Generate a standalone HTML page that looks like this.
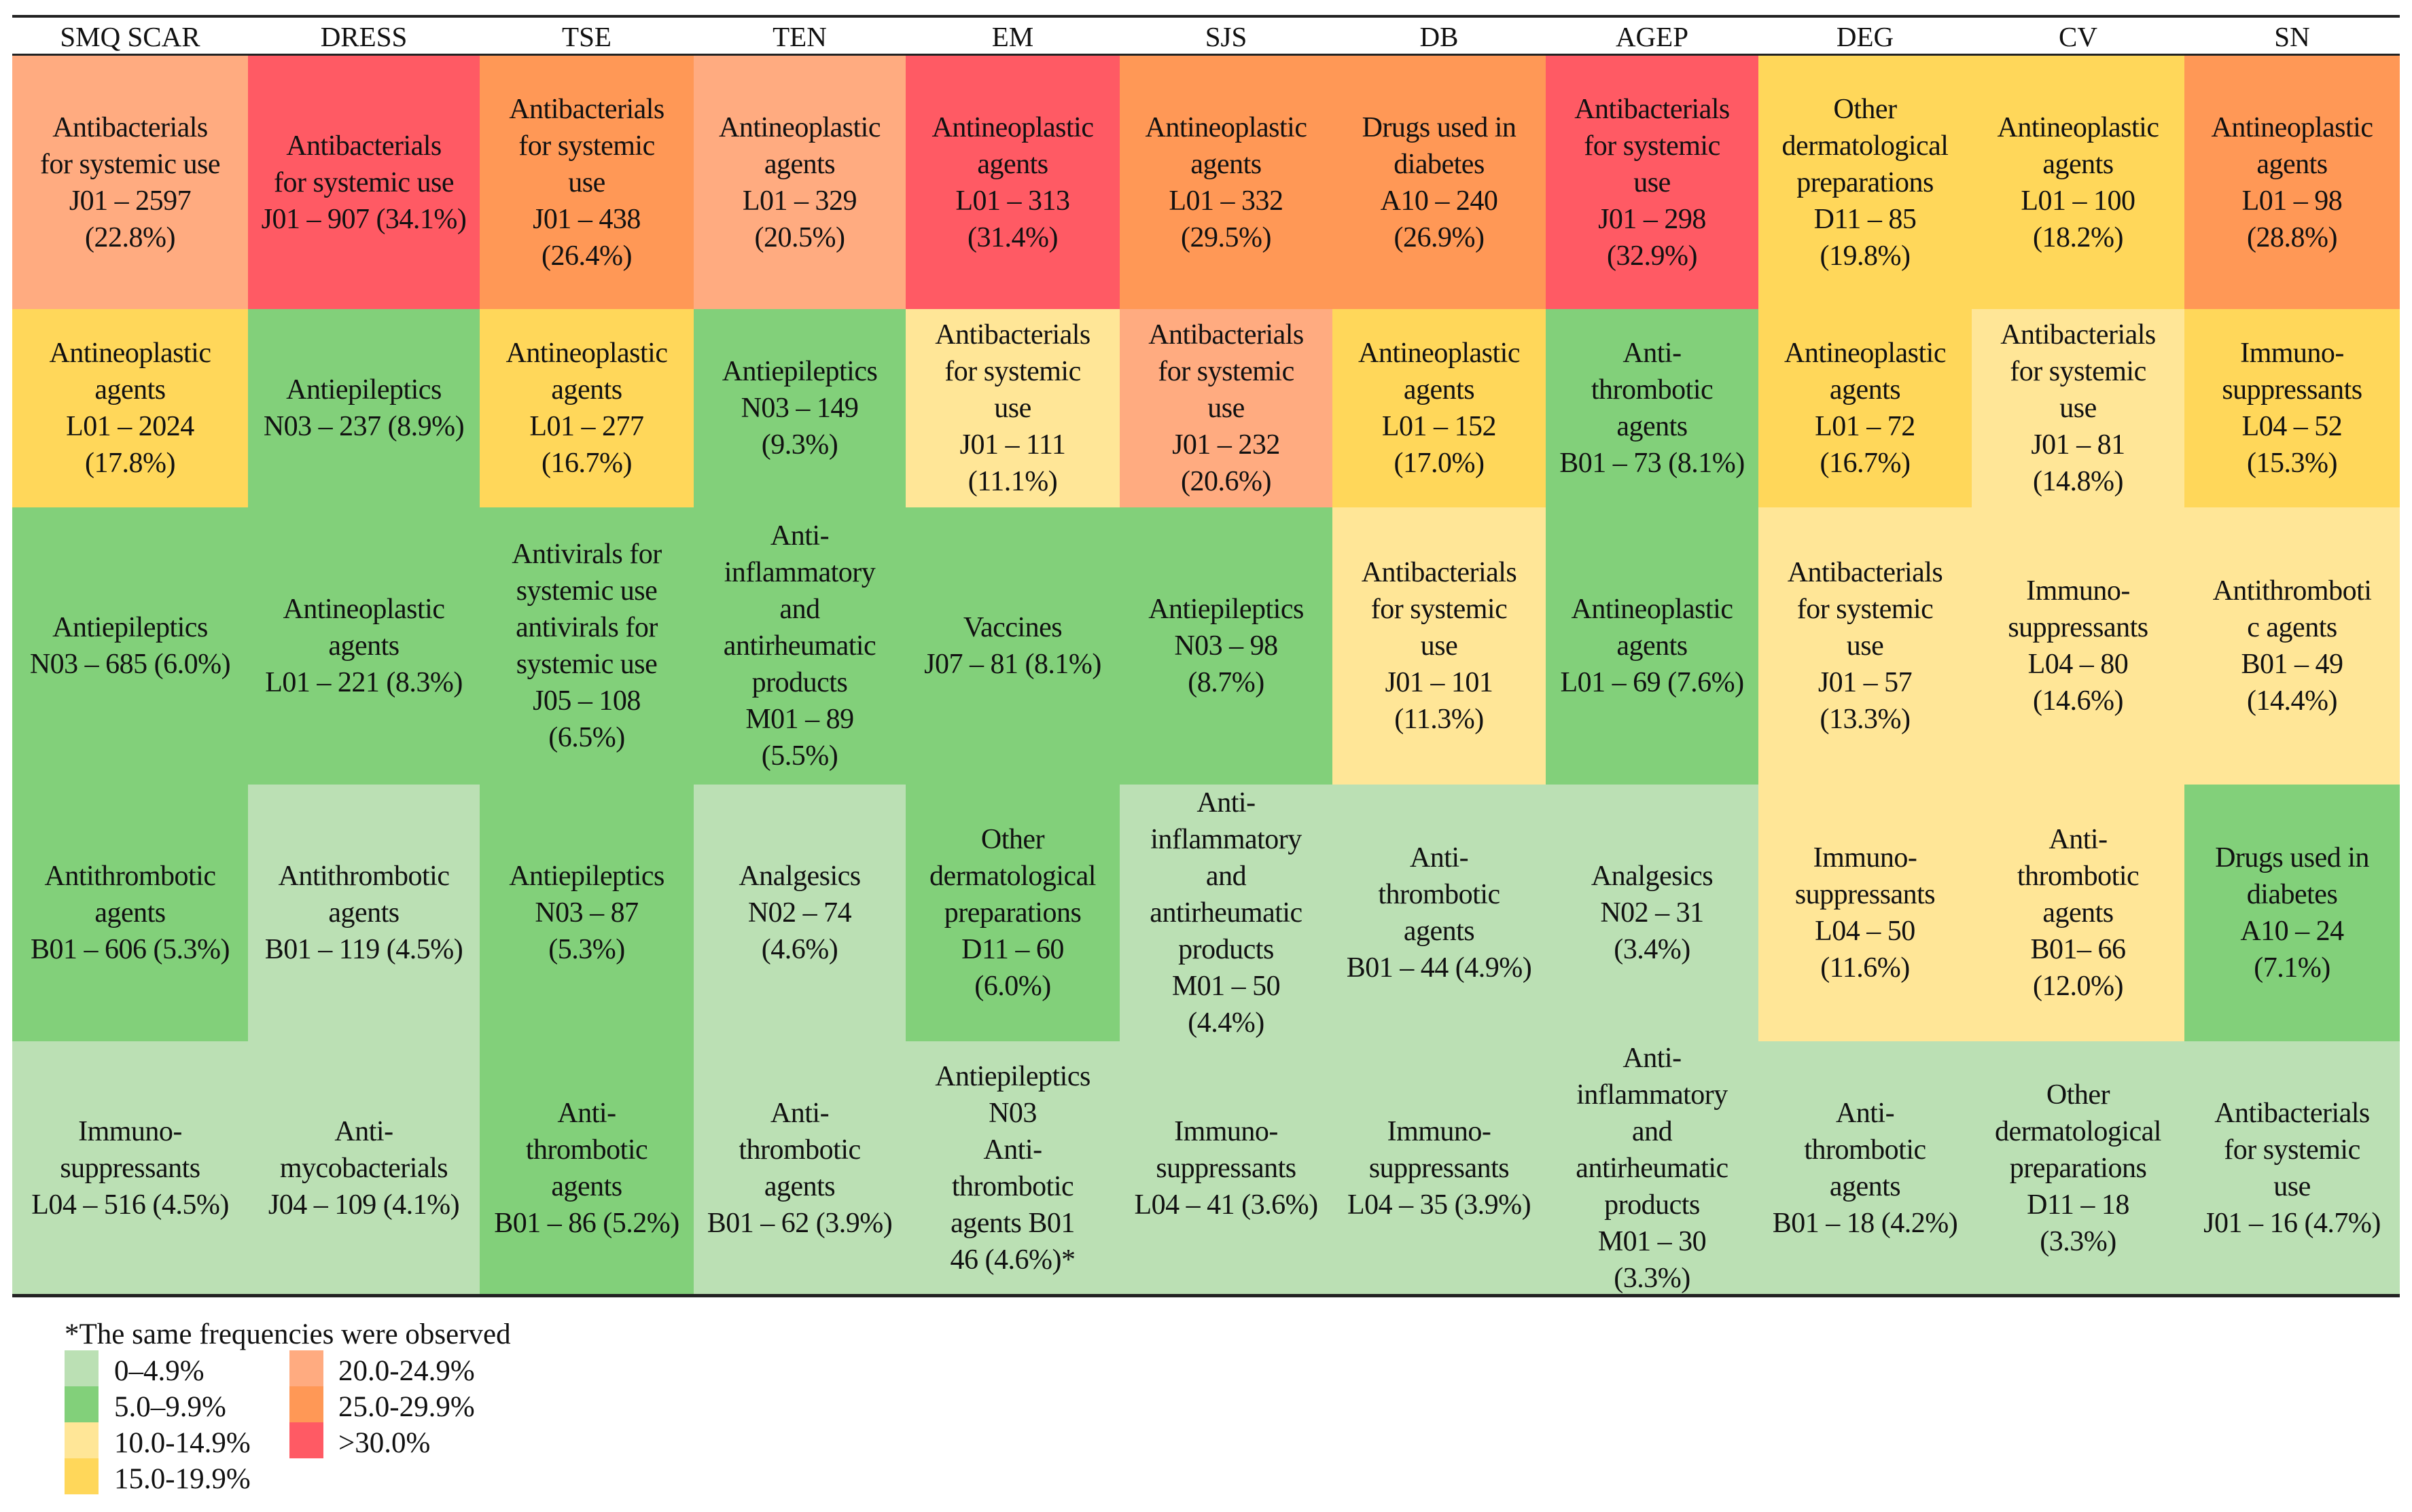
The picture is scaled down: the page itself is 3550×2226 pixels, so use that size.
<!DOCTYPE html>
<html><head><meta charset="utf-8">
<style>
html,body{margin:0;padding:0;background:#fff;}
body{width:3550px;height:2226px;position:relative;overflow:hidden;font-family:"Liberation Serif","Times New Roman",serif;color:#111;}
.rule{position:absolute;background:#222;}
.hdr{position:absolute;top:26px;height:56px;line-height:56px;text-align:center;font-size:41px;}
.cell{position:absolute;display:flex;align-items:center;justify-content:center;text-align:center;font-size:42px;line-height:54px;letter-spacing:-0.5px;}
.sw{position:absolute;width:50px;height:53px;}
.lt{position:absolute;font-size:43px;line-height:53px;}
</style></head>
<body>
<div class="rule" style="left:18px;top:22px;width:3514px;height:4px"></div>
<div class="rule" style="left:18px;top:79px;width:3514px;height:5px"></div>
<div id="grid"></div>
<div class="rule" style="left:18px;top:1905px;width:3514px;height:5px"></div>

<div class="lt" style="left:95px;top:1938px">*The same frequencies were observed</div>
<div id="legend"></div>

<script>
const columns = ["SMQ SCAR","DRESS","TSE","TEN","EM","SJS","DB","AGEP","DEG","CV","SN"];
const percents = [
 [22.8,17.8,6.0,5.3,4.5],
 [34.1,8.9,8.3,4.5,4.1],
 [26.4,16.7,6.5,5.3,5.2],
 [20.5,9.3,5.5,4.6,3.9],
 [31.4,11.1,8.1,6.0,4.6],
 [29.5,20.6,8.7,4.4,3.6],
 [26.9,17.0,11.3,4.9,3.9],
 [32.9,8.1,7.6,3.4,3.3],
 [19.8,16.7,13.3,11.6,4.2],
 [18.2,14.8,14.6,12.0,3.3],
 [28.8,15.3,14.4,7.1,4.7]
];
const labels = [
 [["Antibacterials","for systemic use","J01 – 2597"],["Antineoplastic","agents","L01 – 2024"],["Antiepileptics","N03 – 685 (#)"],["Antithrombotic","agents","B01 – 606 (#)"],["Immuno-","suppressants","L04 – 516 (#)"]],
 [["Antibacterials","for systemic use","J01 – 907 (#)"],["Antiepileptics","N03 – 237 (#)"],["Antineoplastic","agents","L01 – 221 (#)"],["Antithrombotic","agents","B01 – 119 (#)"],["Anti-","mycobacterials","J04 – 109 (#)"]],
 [["Antibacterials","for systemic","use","J01 – 438"],["Antineoplastic","agents","L01 – 277"],["Antivirals for","systemic use","antivirals for","systemic use","J05 – 108"],["Antiepileptics","N03 – 87"],["Anti-","thrombotic","agents","B01 – 86 (#)"]],
 [["Antineoplastic","agents","L01 – 329"],["Antiepileptics","N03 – 149"],["Anti-","inflammatory","and","antirheumatic","products","M01 – 89"],["Analgesics","N02 – 74"],["Anti-","thrombotic","agents","B01 – 62 (#)"]],
 [["Antineoplastic","agents","L01 – 313"],["Antibacterials","for systemic","use","J01 – 111"],["Vaccines","J07 – 81 (#)"],["Other","dermatological","preparations","D11 – 60"],["Antiepileptics","N03","Anti-","thrombotic","agents B01","46 (#)*"]],
 [["Antineoplastic","agents","L01 – 332"],["Antibacterials","for systemic","use","J01 – 232"],["Antiepileptics","N03 – 98"],["Anti-","inflammatory","and","antirheumatic","products","M01 – 50"],["Immuno-","suppressants","L04 – 41 (#)"]],
 [["Drugs used in","diabetes","A10 – 240"],["Antineoplastic","agents","L01 – 152"],["Antibacterials","for systemic","use","J01 – 101"],["Anti-","thrombotic","agents","B01 – 44 (#)"],["Immuno-","suppressants","L04 – 35 (#)"]],
 [["Antibacterials","for systemic","use","J01 – 298"],["Anti-","thrombotic","agents","B01 – 73 (#)"],["Antineoplastic","agents","L01 – 69 (#)"],["Analgesics","N02 – 31"],["Anti-","inflammatory","and","antirheumatic","products","M01 – 30"]],
 [["Other","dermatological","preparations","D11 – 85"],["Antineoplastic","agents","L01 – 72"],["Antibacterials","for systemic","use","J01 – 57"],["Immuno-","suppressants","L04 – 50"],["Anti-","thrombotic","agents","B01 – 18 (#)"]],
 [["Antineoplastic","agents","L01 – 100"],["Antibacterials","for systemic","use","J01 – 81"],["Immuno-","suppressants","L04 – 80"],["Anti-","thrombotic","agents","B01– 66"],["Other","dermatological","preparations","D11 – 18"]],
 [["Antineoplastic","agents","L01 – 98"],["Immuno-","suppressants","L04 – 52"],["Antithromboti","c agents","B01 – 49"],["Drugs used in","diabetes","A10 – 24"],["Antibacterials","for systemic","use","J01 – 16 (#)"]]
];
const bins = ["0–4.9%","5.0–9.9%","10.0-14.9%","15.0-19.9%","20.0-24.9%","25.0-29.9%",">30.0%"];
const binColors = ["#bbe0b4","#82d07a","#ffe697","#ffd75a","#ffab80","#ff9856","#ff5a64"];

const colEdges=[18,365,706,1021,1333,1648,1961,2275,2588,2902,3215,3532];
const rowEdges=[82,455,747,1155,1533,1906];
function binOf(p){ if(p<5) return 0; if(p<10) return 1; if(p<15) return 2; if(p<20) return 3; if(p<25) return 4; if(p<30) return 5; return 6; }
function fmt(p){ return p.toFixed(1)+"%"; }

const grid=document.getElementById('grid');
columns.forEach((c,i)=>{
  const h=document.createElement('div');
  h.className='hdr';
  h.style.left=colEdges[i]+'px';
  h.style.width=(colEdges[i+1]-colEdges[i])+'px';
  h.textContent=c;
  
  
  grid.appendChild(h);
  percents[i].forEach((p,r)=>{
    const d=document.createElement('div');
    d.className='cell';
    d.style.left=colEdges[i]+'px';
    d.style.width=(colEdges[i+1]-colEdges[i])+'px';
    d.style.top=rowEdges[r]+'px';
    d.style.height=(rowEdges[r+1]-rowEdges[r])+'px';
    d.style.background=binColors[binOf(p)];
    let lines=labels[i][r].slice();
    const hasHash=lines.some(l=>l.indexOf('#')>=0);
    lines=lines.map(l=>l.replace('#',fmt(p)));
    if(!hasHash) lines.push('('+fmt(p)+')');
    d.innerHTML='<div style="white-space:nowrap">'+lines.join('<br>')+'</div>';
    
    
    grid.appendChild(d);
  });
});

const lg=document.getElementById('legend');
bins.forEach((b,k)=>{
  const col=k<4?0:1, row=k<4?k:k-4;
  const x=col===0?95:426, tx=col===0?168:498, y=1988+row*53;
  const s=document.createElement('div');
  s.className='sw';
  s.style.left=x+'px'; s.style.top=y+'px'; s.style.background=binColors[k];
  
  
  lg.appendChild(s);
  const t=document.createElement('div');
  t.className='lt';
  t.style.left=tx+'px'; t.style.top=(y+4)+'px';
  t.textContent=b;
  
  
  lg.appendChild(t);
});
</script>
</body></html>
